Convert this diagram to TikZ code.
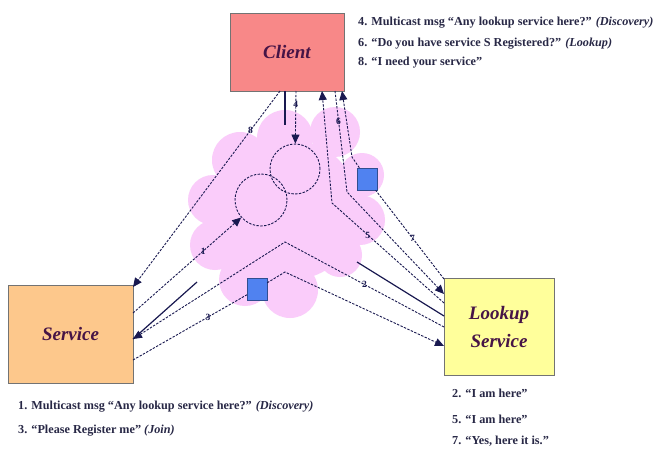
\documentclass[tikz,border=0pt]{standalone}
\usepackage{fontspec}
\setmainfont{Liberation Serif}
\usetikzlibrary{arrows.meta,positioning}
\definecolor{clientred}{RGB}{248,136,136}
\definecolor{servorange}{RGB}{253,200,140}
\definecolor{lookyellow}{RGB}{255,255,155}
\definecolor{cloudpink}{RGB}{250,204,250}
\definecolor{objblue}{RGB}{80,130,240}
\definecolor{msgnavy}{RGB}{25,25,80}
\definecolor{boxtext}{RGB}{70,20,70}
\definecolor{notetext}{RGB}{40,40,70}

\begin{document}
\begin{tikzpicture}[x=1pt, y=-1pt,
  box/.style={draw=black!55, line width=0.6pt, inner sep=0pt, align=center, text=boxtext, font=\fontsize{19}{28}\selectfont\bfseries\itshape},
  obj/.style={draw=objblue!60!black, line width=0.4pt, fill=objblue, minimum width=20pt, minimum height=22pt, inner sep=0pt},
  cast/.style={circle, draw=msgnavy, line width=0.9pt, dash pattern=on 2.4pt off 1.4pt, minimum size=#1, inner sep=0pt},
  msg/.style={draw=msgnavy, line width=0.9pt, dash pattern=on 2.4pt off 1.4pt},
  arrow/.style={msg, -{Triangle[length=9pt, width=8pt]}},
  solid seg/.style={draw=msgnavy, line width=1.2pt},
  num/.style={font=\fontsize{9.5}{9.5}\selectfont\bfseries, text=msgnavy, inner sep=0.5pt},
  note/.style={anchor=west, inner sep=0pt, text=notetext, font=\fontsize{12.2}{14}\selectfont\bfseries}]
\path[use as bounding box, fill=white] (0,0) rectangle (658,452);

% the network cloud
\foreach \cx/\cy/\r in {240/160/28, 285/138/28, 335/132/25, 362/175/22, 360/220/25, 340/255/22, 290/290/28, 245/280/26, 215/245/25, 213/200/25, 290/210/70}
  \fill[cloudpink] (\cx,\cy) circle[radius=\r pt];

% boxes
\node[box, fill=clientred, minimum width=114pt, minimum height=78pt] (client) at (287,52) {Client};
\node[box, fill=servorange, minimum width=125pt, minimum height=98pt] (service) at (70.5,334) {Service};
\node[box, fill=lookyellow, minimum width=110pt, minimum height=97pt] (lookup) at (499,326.5) {Lookup\\Service};

% multicast rings and service objects
\node[cast=50pt] (circ1) at (295,169) {};
\node[cast=52pt] (circ2) at (261,200) {};
\node[obj] (sqA) at (367,179) {};
\node[obj] (sqB) at (257,289) {};

% ports and bends
\coordinate (p8) at (280,91);  \coordinate (pS) at (285,91);  \coordinate (p4) at (296,91);
\coordinate (p5) at (322,91);  \coordinate (p6) at (335,91);  \coordinate (p7) at (342,91);
\coordinate (s8) at (133,287); \coordinate (s1) at (133,313); \coordinate (s2) at (133,339); \coordinate (s3) at (133,360);
\coordinate (l7) at (444,279); \coordinate (l6) at (444,294); \coordinate (l5) at (444,303);
\coordinate (lT) at (444,316); \coordinate (l2) at (444,327); \coordinate (l3) at (444,346);
\coordinate (cS) at (285,125); \coordinate (cT1) at (197,282); \coordinate (cT2) at (357,262);
\coordinate (peakA) at (285,242); \coordinate (peakB) at (285,272);
\coordinate (c5) at (332,203); \coordinate (c6) at (347,192); \coordinate (c7) at (352,157);

% messages
\draw[arrow] (p8) -- node[num, pos=0.2] (n8) {8} (s8);
\draw[arrow] (p4) -- node[num, pos=0.26] (n4) {4} (circ1);
\draw[solid seg] (pS) -- (cS);
\draw[arrow] (s1) -- node[num, pos=0.65] (n1) {1} (circ2);
\draw[solid seg] (s2) -- (cT1);
\draw[arrow] (l2) -- node[num, pos=0.5] (n2) {2} (peakA) -- (s2);
\draw[arrow] (s3) -- node[num, pos=0.66] (n3) {3} (sqB) -- (peakB) -- (l3);
\draw[arrow] (l5) -- node[num, pos=0.68] (n5) {5} (c5) -- (p5);
\draw[arrow] (p6) -- node[num, pos=0.3] (n6) {6} (c6) -- (l6);
\draw[arrow] (l7) -- node[num, pos=0.46] (n7) {7} (sqA) -- (c7) -- (p7);
\draw[solid seg] (cT2) -- (lT);

% notes
\node[note] (q4) at (358,23) {4. Multicast msg “Any lookup service here?” \textit{(Discovery)}};
\node[note] (q6) at (358,44) {6. “Do you have service S Registered?” \textit{(Lookup)}};
\node[note] (q8) at (358,63) {8. “I need your service”};
\node[note] (q1) at (18,407) {1. Multicast msg “Any lookup service here?” \textit{(Discovery)}};
\node[note] (q3) at (18,431) {3. “Please Register me” \textit{(Join)}};
\node[note] (q2) at (452,393) {2. “I am here”};
\node[note] (q5) at (452,419) {5. “I am here”};
\node[note] (q7) at (452,441) {7. “Yes, here it is.”};
\end{tikzpicture}
\end{document}
